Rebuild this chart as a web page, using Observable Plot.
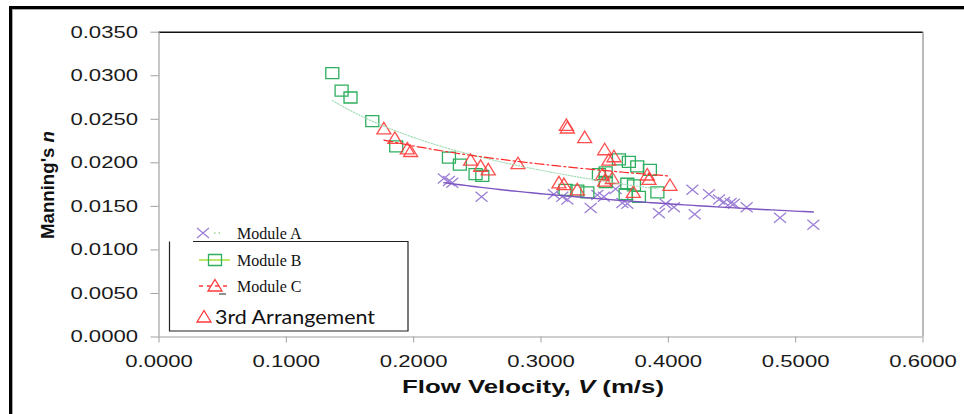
<!DOCTYPE html>
<html>
<head>
<meta charset="utf-8">
<script src="https://cdn.jsdelivr.net/npm/d3@7"></script>
<script src="https://cdn.jsdelivr.net/npm/@observablehq/plot@0.6"></script>
<style>
  html, body { margin: 0; padding: 0; background: #fff; }
  #chart { position: relative; width: 964px; height: 414px; overflow: hidden; }
  #chart svg { position: absolute; left: 0; top: 0; }
  .edge { position: absolute; left: 9px; top: 6px; width: 1000px; height: 500px;
          border-left: 3px solid #000; border-top: 3px solid #000; }
  .edge-shade { position: absolute; left: 12px; top: 9px; width: 1000px; height: 500px;
          border-left: 1px solid #a8a8a8; border-top: 1px solid #a8a8a8; }
</style>
</head>
<body>
<div id="chart"></div>
<script>
// Flow velocity V (m/s) and Manning's n for each module
const moduleA_v = [0.2237, 0.2277, 0.2303, 0.2533, 0.3101, 0.3167, 0.3207, 0.3390, 0.3442, 0.3494,
                   0.3586, 0.3639, 0.3678, 0.3926, 0.3979, 0.4044, 0.4189, 0.4207, 0.4319, 0.4398,
                   0.4437, 0.4489, 0.4515, 0.4615, 0.4877, 0.5139];
const moduleA_n = [0.0182, 0.0179, 0.0177, 0.0161, 0.0164, 0.0161, 0.0158, 0.0148, 0.0163, 0.0161,
                   0.0170, 0.0154, 0.0153, 0.0142, 0.0153, 0.0149, 0.0169, 0.0141, 0.0164, 0.0158,
                   0.0155, 0.0154, 0.0153, 0.0149, 0.0137, 0.0129];

const moduleB_v = [0.1361, 0.1434, 0.1504, 0.1675, 0.1863, 0.2277, 0.2363, 0.2486, 0.2539, 0.3193,
                   0.3285, 0.3364, 0.3455, 0.3508, 0.3612, 0.3690, 0.3756, 0.3855, 0.3678, 0.3730,
                   0.3665, 0.3769, 0.3914, 0.3508];
const moduleB_n = [0.0303, 0.0283, 0.0275, 0.0248, 0.0219, 0.0206, 0.0198, 0.0187, 0.0185, 0.0169,
                   0.0168, 0.0166, 0.0187, 0.0189, 0.0204, 0.0201, 0.0196, 0.0192, 0.0176, 0.0174,
                   0.0164, 0.0161, 0.0166, 0.0178];

const moduleC_v = [0.1766, 0.1852, 0.1950, 0.1976, 0.2447, 0.2526, 0.2586, 0.2819, 0.3199, 0.3207,
                   0.3343, 0.3500, 0.3573, 0.3533, 0.3482, 0.3560, 0.3500, 0.3141, 0.3180, 0.3285,
                   0.3835, 0.3848, 0.4013, 0.3725];
const moduleC_n = [0.0239, 0.0228, 0.0216, 0.0213, 0.0203, 0.0196, 0.0192, 0.0199, 0.0243, 0.0240,
                   0.0229, 0.0215, 0.0207, 0.0203, 0.0186, 0.0182, 0.0179, 0.0177, 0.0175, 0.0169,
                   0.0186, 0.0181, 0.0174, 0.0166];

const seriesNames = ["Module A", "Module B", "Module C", "3rd Arrangement"];
const xTicks = [0, 0.1, 0.2, 0.3, 0.4, 0.5, 0.6];
const yTicks = [0, 0.005, 0.01, 0.015, 0.02, 0.025, 0.03, 0.035];

const colA = "#9c7fd6", lineA = "#7d55c0";
const colB = "#2eae5f", lineB = "#9fdcb4";
const colC = "#ff3b3b", lineC = "#ff2a2a";

const rows = (vs, ns) => vs.map((v, i) => ({v, n: ns[i]}));
const dataA = rows(moduleA_v, moduleA_n);
const dataB = rows(moduleB_v, moduleB_n);
const dataC = rows(moduleC_v, moduleC_n);

// Least-squares power trend n = a * V^b over the range of each series
function powerTrend(data) {
  const lx = data.map(d => Math.log(d.v)), ly = data.map(d => Math.log(d.n));
  const mx = d3.mean(lx), my = d3.mean(ly);
  const b = d3.sum(lx, (x, i) => (x - mx) * (ly[i] - my)) / d3.sum(lx, x => (x - mx) ** 2);
  const a = Math.exp(my - b * mx);
  const [lo, hi] = d3.extent(data, d => d.v);
  return d3.range(0, 81).map(i => { const v = lo + (hi - lo) * i / 80; return {v, n: a * v ** b}; });
}

// Marker shapes
const crossSym = {draw(c) { c.moveTo(-6, -5); c.lineTo(6, 5); c.moveTo(6, -5); c.lineTo(-6, 5); }};
const boxSym = {draw(c) { c.moveTo(-6.5, -5.5); c.lineTo(6.5, -5.5); c.lineTo(6.5, 5.5); c.lineTo(-6.5, 5.5); c.closePath(); }};
const triSym = {draw(c) { c.moveTo(0, -6.5); c.lineTo(7, 5); c.lineTo(-7, 5); c.closePath(); }};

const plot = Plot.plot({
  width: 964,
  height: 414,
  marginLeft: 158.5,
  marginRight: 41.5,
  marginTop: 31.7,
  marginBottom: 77.5,
  style: {fontFamily: "'Liberation Sans', Arial, sans-serif", background: "transparent"},
  x: {domain: [0, 0.6]},
  y: {domain: [0, 0.035]},
  marks: [
    Plot.ruleX([0.6], {stroke: "#8a8a8a", strokeWidth: 1.2}),
    Plot.ruleY([0.035], {stroke: "#111", strokeWidth: 1.5}),
    Plot.ruleY([0], {stroke: "#a0a0a0", strokeWidth: 1.2}),
    Plot.ruleX([0], {stroke: "#a0a0a0", strokeWidth: 1.2}),
    Plot.axisX({ticks: xTicks, tickFormat: d3.format(".4f"), tickSize: 6, tickPadding: 12,
                fontSize: 17, stroke: "#a0a0a0", fill: "#1a1a1a", label: null}),
    Plot.axisY({ticks: yTicks, tickFormat: d3.format(".4f"), tickSize: 8, tickPadding: 13,
                fontSize: 17, stroke: "#a0a0a0", fill: "#1a1a1a", label: null}),
    Plot.dot(dataA, {x: "v", y: "n", symbol: crossSym, stroke: colA, strokeWidth: 1.3, fill: "none"}),
    Plot.dot(dataB, {x: "v", y: "n", symbol: boxSym, stroke: colB, strokeWidth: 1.3, fill: "none"}),
    Plot.dot(dataC, {x: "v", y: "n", symbol: triSym, stroke: colC, strokeWidth: 1.3, fill: "none", strokeOpacity: 0.9}),
    Plot.line(powerTrend(dataA), {x: "v", y: "n", stroke: lineA, strokeWidth: 1.4}),
    Plot.line(powerTrend(dataB), {x: "v", y: "n", stroke: lineB, strokeWidth: 1.1, strokeDasharray: "1.5,1.5"}),
    Plot.line(powerTrend(dataC), {x: "v", y: "n", stroke: lineC, strokeWidth: 1.2, strokeDasharray: "9,3,2,3"})
  ]
});

const chart = document.getElementById("chart");
chart.appendChild(plot);
const edge = document.createElement("div"); edge.className = "edge"; chart.appendChild(edge);
const shade = document.createElement("div"); shade.className = "edge-shade"; chart.appendChild(shade);

const svg = d3.select(plot);

// Axis titles
const xt = svg.append("text").attr("x", 533).attr("y", 393).attr("text-anchor", "middle")
  .attr("font-size", 18).attr("font-weight", "bold").attr("fill", "#111")
  .attr("textLength", 262).attr("lengthAdjust", "spacingAndGlyphs");
xt.append("tspan").text("Flow Velocity, ");
xt.append("tspan").attr("font-style", "italic").text("V");
xt.append("tspan").text(" (m/s)");

const yt = svg.append("text").attr("transform", "translate(54,185) rotate(-90)").attr("text-anchor", "middle")
  .attr("font-size", 18).attr("font-weight", "bold").attr("fill", "#111")
  .attr("textLength", 108).attr("lengthAdjust", "spacingAndGlyphs");
yt.append("tspan").text("Manning's ");
yt.append("tspan").attr("font-style", "italic").text("n");

// Legend
const lg = svg.append("g").attr("text-anchor", "start");
lg.append("path").attr("d", "M193,241.5H408V331H169.5V241.5").attr("fill", "none").attr("stroke", "#222").attr("stroke-width", 1.2);
const legendRows = [
  {name: seriesNames[0], y: 233, sym: crossSym, col: colA, line: "#9fd48a", dash: "1.5,3", lx: [214, 222], sx: 203, tx: 237, serif: true},
  {name: seriesNames[1], y: 260, sym: boxSym, col: colB, line: "#a6e03a", dash: null, lx: [199, 230], sx: 215, tx: 237, serif: true},
  {name: seriesNames[2], y: 286, sym: triSym, col: colC, line: colC, dash: "4,4", lx: [199, 230], sx: 215, tx: 237, serif: true},
  {name: seriesNames[3], y: 317, sym: triSym, col: colC, line: null, dash: null, lx: null, sx: 204, tx: 215, serif: false}
];
for (const r of legendRows) {
  if (r.line) {
    lg.append("line").attr("x1", r.lx[0]).attr("x2", r.lx[1]).attr("y1", r.y).attr("y2", r.y)
      .attr("stroke", r.line).attr("stroke-width", 1.5).attr("stroke-dasharray", r.dash);
  }
  lg.append("path").attr("d", d3.symbol(r.sym)()).attr("transform", `translate(${r.sx},${r.y})`)
    .attr("fill", "none").attr("stroke", r.col).attr("stroke-width", 1.3);
  const t = lg.append("text").attr("x", r.tx).attr("y", r.y).attr("dy", "0.35em").attr("text-anchor", "start")
    .attr("font-family", r.serif ? "'Liberation Serif', 'Times New Roman', serif" : "Lato, 'Open Sans', sans-serif")
    .attr("font-size", r.serif ? 16 : 19).attr("fill", "#111").text(r.name);
  if (!r.serif) t.attr("textLength", 160).attr("lengthAdjust", "spacingAndGlyphs");
}
lg.append("line").attr("x1", 219).attr("x2", 226).attr("y1", 294).attr("y2", 294).attr("stroke", "#222").attr("stroke-width", 1);

// Widen the tick lettering
const SX = 1.3;
svg.selectAll('g[aria-label$="tick label"] text').each(function() {
  this.setAttribute("textLength", this.getComputedTextLength() * SX);
  this.setAttribute("lengthAdjust", "spacingAndGlyphs");
});
</script>
</body>
</html>
